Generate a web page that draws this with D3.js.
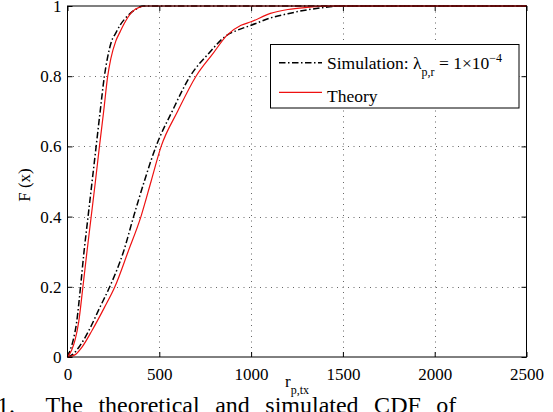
<!DOCTYPE html>
<html>
<head>
<meta charset="utf-8">
<script src="https://cdn.jsdelivr.net/npm/d3@7"></script>
<style>
  html, body { margin: 0; padding: 0; background: #fff; }
  svg { display: block; font-family: "Liberation Serif", "Times New Roman", serif; }
</style>
</head>
<body>
<svg id="chart" width="553" height="412"></svg>
<script>
// ---------------- data ----------------
const xTicks = [0, 500, 1000, 1500, 2000, 2500];
const yTicks = [0, 0.2, 0.4, 0.6, 0.8, 1];
const xGrid = [500, 1000, 1500, 2000];
const yGrid = [0.2, 0.4, 0.6, 0.8];

// Simulation, short distances (black dash-dot)
const simNearR = [0, 15, 32, 50, 71, 90, 112, 134, 156, 178, 201, 217, 240, 262, 287, 310, 342, 370, 413, 2500];
const simNearF = [0, 0.02, 0.05, 0.1, 0.2, 0.3, 0.4, 0.5, 0.6, 0.7, 0.8, 0.85, 0.9, 0.922, 0.946, 0.962, 0.979, 0.99, 1, 1];
// Theory, short distances (red)
const theoryNearR = [0, 23, 42, 61, 84, 106, 129, 152, 174, 197, 219, 236, 263, 287, 309, 353, 390, 430, 2500];
const theoryNearF = [0, 0.02, 0.05, 0.1, 0.2, 0.3, 0.4, 0.5, 0.6, 0.7, 0.8, 0.85, 0.9, 0.927, 0.95, 0.984, 0.996, 1, 1];
// Simulation, long distances (black dash-dot)
const simFarR = [0, 30, 65, 118, 175, 230, 305, 360, 418, 482, 570, 668, 769, 869, 920, 1000, 1100, 1200, 1305, 1400, 1500, 2500];
const simFarF = [0, 0.008, 0.03, 0.077, 0.14, 0.2, 0.3, 0.4, 0.5, 0.6, 0.7, 0.8, 0.865, 0.917, 0.93, 0.945, 0.965, 0.978, 0.989, 0.996, 1, 1];
// Theory, long distances (red)
const theoryFarR = [0, 40, 80, 135, 200, 258, 330, 400, 455, 510, 600, 700, 793, 869, 945, 1000, 1105, 1200, 1305, 1450, 2500];
const theoryFarF = [0, 0.006, 0.029, 0.077, 0.14, 0.2, 0.3, 0.4, 0.5, 0.6, 0.7, 0.8, 0.865, 0.917, 0.945, 0.955, 0.979, 0.99, 0.996, 1, 1];

const legendLabels = ["Simulation", "Theory"];
const captionText = "1.  The theoretical and simulated CDF of";

// ---------------- layout ----------------
const svg = d3.select("#chart");
const L = 67.5, R = 526.5, T = 6, B = 357;
const x = d3.scaleLinear().domain([0, 2500]).range([L, R]);
const y = d3.scaleLinear().domain([0, 1]).range([B, T]);
const fontTick = 17;
const red = "#ee1111";

// grid
const grid = svg.append("g").attr("stroke", "#666").attr("stroke-width", 1).attr("stroke-dasharray", "1,4.5");
grid.selectAll("line.gx").data(xGrid).join("line")
  .attr("x1", d => Math.round(x(d)) + 0.5).attr("x2", d => Math.round(x(d)) + 0.5)
  .attr("y1", T).attr("y2", B);
grid.selectAll("line.gy").data(yGrid).join("line")
  .attr("y1", d => Math.round(y(d)) + 0.5).attr("y2", d => Math.round(y(d)) + 0.5)
  .attr("x1", L).attr("x2", R);

// axes
function styleAxis(g) {
  g.select(".domain").remove();
  g.selectAll(".tick line").attr("stroke", "#000");
  g.selectAll(".tick text").attr("fill", "#000")
    .style("font-family", '"Liberation Serif", "Times New Roman", serif')
    .style("font-size", fontTick + "px");
}
svg.append("g").attr("transform", `translate(0,${B})`)
  .call(d3.axisBottom(x).tickValues(xTicks).tickFormat(d3.format("d")).tickSizeInner(-5).tickSizeOuter(0).tickPadding(11))
  .call(styleAxis);
svg.append("g").attr("transform", `translate(0,${T})`)
  .call(d3.axisTop(x).tickValues(xTicks).tickFormat("").tickSizeInner(-5).tickSizeOuter(0))
  .call(styleAxis);
svg.append("g").attr("transform", `translate(${L},0)`)
  .call(d3.axisLeft(y).tickValues(yTicks).tickFormat(d3.format("~g")).tickSizeInner(-5).tickSizeOuter(0).tickPadding(6))
  .call(styleAxis);
svg.append("g").attr("transform", `translate(${R},0)`)
  .call(d3.axisRight(y).tickValues(yTicks).tickFormat("").tickSizeInner(-5).tickSizeOuter(0))
  .call(styleAxis);

// curves
const line = d3.line().x(d => x(d[0])).y(d => y(d[1])).curve(d3.curveMonotoneX);
const zip = (a, b) => a.map((v, i) => [v, b[i]]);
const dashDot = "6.5,2.5,1.5,2.5";

[zip(simNearR, simNearF), zip(simFarR, simFarF)].forEach(pts => {
  svg.append("path").attr("d", line(pts)).attr("fill", "none")
    .attr("stroke", "#000").attr("stroke-width", 1.5).attr("stroke-dasharray", dashDot);
});
[zip(theoryNearR, theoryNearF), zip(theoryFarR, theoryFarF)].forEach(pts => {
  svg.append("path").attr("d", line(pts)).attr("fill", "none")
    .attr("stroke", red).attr("stroke-width", 1.2);
});

// frame
svg.append("rect").attr("x", L).attr("y", T).attr("width", R - L).attr("height", B - T)
  .attr("fill", "none").attr("stroke", "#000").attr("stroke-width", 1);

// legend
const lg = svg.append("g");
lg.append("rect").attr("x", 270.5).attr("y", 44.5).attr("width", 248.5).attr("height", 63.5)
  .attr("fill", "#fff").attr("stroke", "#000").attr("stroke-width", 1);
lg.append("line").attr("x1", 279).attr("x2", 322).attr("y1", 62.7).attr("y2", 62.7)
  .attr("stroke", "#000").attr("stroke-width", 1.5).attr("stroke-dasharray", dashDot);
lg.append("line").attr("x1", 279).attr("x2", 322).attr("y1", 92.3).attr("y2", 92.3)
  .attr("stroke", red).attr("stroke-width", 1.2);
const t1 = lg.append("text").attr("x", 327).attr("y", 69.3).style("font-size", "17.5px");
t1.append("tspan").text(legendLabels[0] + ": λ");
t1.append("tspan").attr("dy", 7).style("font-size", "12px").text("p,r");
t1.append("tspan").attr("dy", -7).text(" = 1×10");
t1.append("tspan").attr("dy", -7).style("font-size", "12px").text("−4");
lg.append("text").attr("x", 327).attr("y", 101.7).style("font-size", "17.5px").text(legendLabels[1]);

// axis labels
const xl = svg.append("text").attr("x", 285).attr("y", 387).style("font-size", "17px");
xl.append("tspan").text("r");
xl.append("tspan").attr("dy", 7).style("font-size", "12px").text("p,tx");

svg.append("text").attr("transform", "translate(30,185) rotate(-90)")
  .attr("text-anchor", "middle").style("font-size", "17px").text("F (x)");

// caption fragment (cut off at the bottom)
svg.append("text").attr("x", -3).attr("y", 413).style("font-size", "24px")
  .style("word-spacing", "9.5px").attr("xml:space", "preserve").text(captionText);
</script>
</body>
</html>
